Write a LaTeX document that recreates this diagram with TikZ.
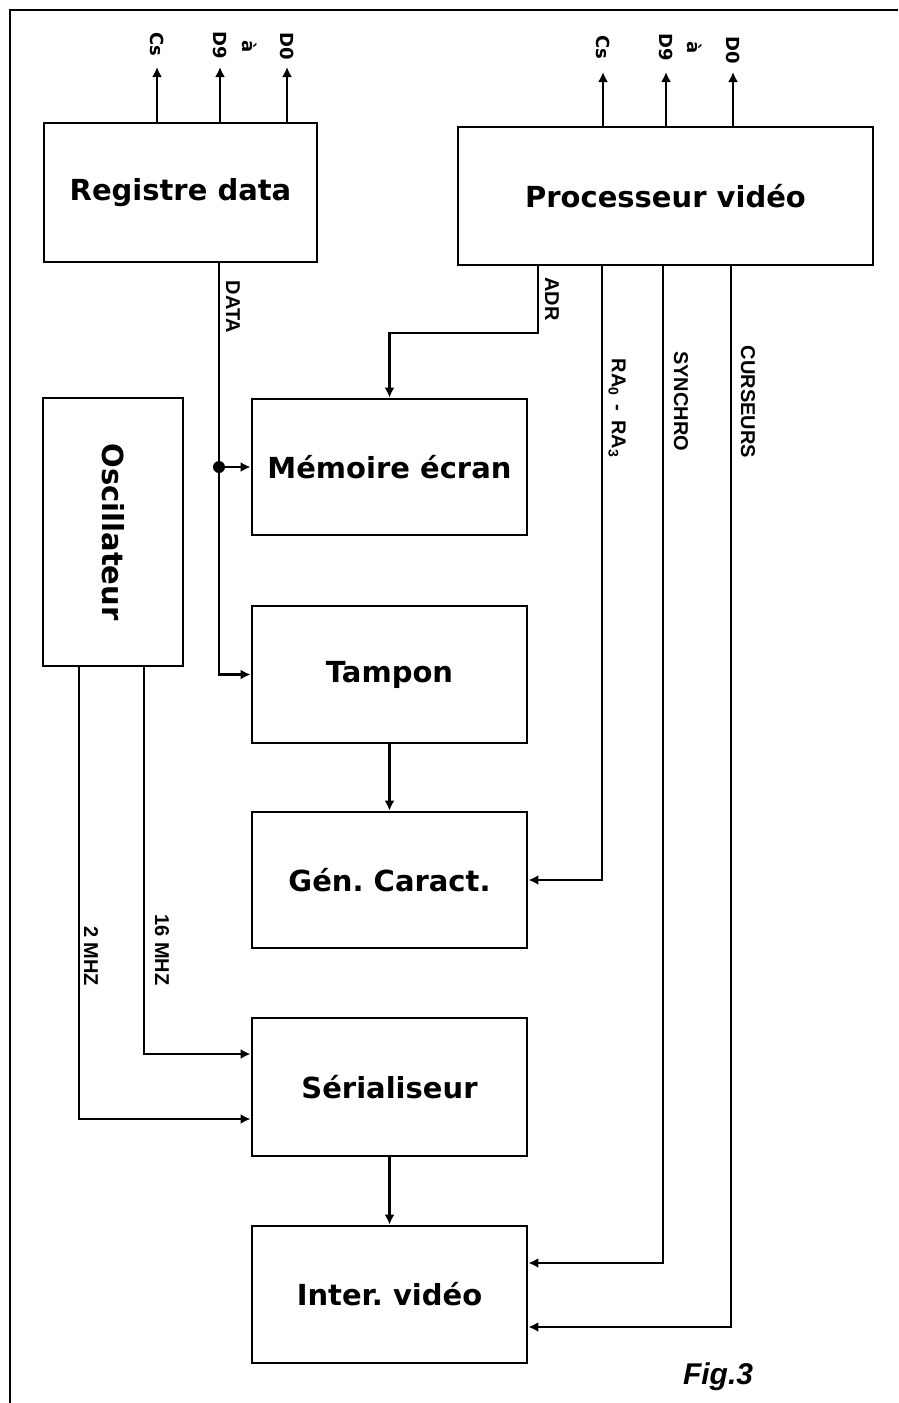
\documentclass[tikz,border=0pt]{standalone}
\usepackage{fontspec}
\setmainfont{DejaVu Sans}
\newfontfamily\lblfont{Liberation Sans}
\usetikzlibrary{arrows.meta}
\frenchspacing
\begin{document}
\begin{tikzpicture}[x=1pt,y=-1pt,
  box/.style={draw,line width=2.9pt,minimum width=275pt,minimum height=137pt,inner sep=0pt,
    font=\fontsize{29}{32}\selectfont\bfseries},
  wire/.style={line width=2.9pt},
  arr/.style={wire,-{Latex[length=10pt,width=10pt]}},
  sig/.style={inner sep=0pt,font=\fontsize{20}{22}\selectfont\lblfont\bfseries},
  pin/.style={inner sep=0pt,font=\fontsize{18}{20}\selectfont\bfseries}]
\useasboundingbox (0,0) rectangle (898,1403);
\fill[white] (0,0) rectangle (898,1403);
% frame
\draw[wire] (10,1403) -- (10,10) -- (898,10);

% boxes
\node[box,minimum width=273pt,minimum height=139pt] (reg) at (180.5,192.5) {Registre data};
\node[box,minimum width=415pt,minimum height=138pt] (proc) at (665.5,196) {Processeur vidéo};
\node[box,minimum width=140pt,minimum height=268pt] (osc) at (113,532) {\rotatebox{-90}{Oscillateur}};
\node[box,minimum height=136pt] (mem) at (389.5,467) {Mémoire écran};
\node[box] (tam) at (389.5,674.5) {Tampon};
\node[box,minimum height=136pt] (gen) at (389.5,880) {Gén. Caract.};
\node[box,minimum height=138pt] (ser) at (389.5,1087) {Sérialiseur};
\node[box] (inter) at (389.5,1294.5) {Inter. vidéo};

% pins of Registre data
\node[pin] (rcs) at (157,44) {\rotatebox{-90}{Cs}};
\node[pin] (rd9) at (220,45) {\rotatebox{-90}{D9}};
\node[pin] (ra1) at (250,47) {\rotatebox{-90}{à}};
\node[pin] (rd0) at (287,46) {\rotatebox{-90}{D0}};
\coordinate (rt1) at (157,67);
\coordinate (rt2) at (220,67);
\coordinate (rt3) at (287,67);
\draw[arr] (reg.north -| rt1) -- (rt1);
\draw[arr] (reg.north -| rt2) -- (rt2);
\draw[arr] (reg.north -| rt3) -- (rt3);

% pins of Processeur video
\node[pin] (pcs) at (603,47) {\rotatebox{-90}{Cs}};
\node[pin] (pd9) at (666,47) {\rotatebox{-90}{D9}};
\node[pin] (pa1) at (695,48) {\rotatebox{-90}{à}};
\node[pin] (pd0) at (733,50) {\rotatebox{-90}{D0}};
\coordinate (pt1) at (603,72);
\coordinate (pt2) at (666,72);
\coordinate (pt3) at (733,72);
\draw[arr] (proc.north -| pt1) -- (pt1);
\draw[arr] (proc.north -| pt2) -- (pt2);
\draw[arr] (proc.north -| pt3) -- (pt3);

% DATA bus
\coordinate (dj) at (219,467);
\draw[wire] (reg.south -| dj) -- (dj);
\draw[arr] (dj) -- (mem.west);
\draw[arr] (dj) |- (tam.west);
\fill (dj) circle (6pt);
\node[sig] (ldata) at (233,307) {\rotatebox{-90}{DATA}};

% ADR
\coordinate (adr) at (538,333);
\draw[arr] (proc.south -| adr) -- (adr) -| (mem.north);
\node[sig] (ladr) at (552,299) {\rotatebox{-90}{ADR}};

% RA0 - RA3
\coordinate (ra) at (602,300);
\draw[arr] (proc.south -| ra) |- (gen.east);
\node[sig] (lra) at (617,408) {\rotatebox{-90}{RA\textsubscript{0} \,-\, RA\textsubscript{3}}};

% SYNCHRO
\coordinate (sy) at (663,300);
\draw[arr] (proc.south -| sy) |- ([yshift=31.5pt]inter.east);
\node[sig] (lsy) at (681,401) {\rotatebox{-90}{SYNCHRO}};

% CURSEURS
\coordinate (cu) at (731,300);
\draw[arr] (proc.south -| cu) |- ([yshift=-32.5pt]inter.east);
\node[sig] (lcu) at (748,402) {\rotatebox{-90}{CURSEURS}};

% chain
\draw[arr] (tam.south) -- (gen.north);
\draw[arr] (ser.south) -- (inter.north);

% clocks
\coordinate (c16) at (144,700);
\coordinate (c2) at (79,700);
\draw[arr] (osc.south -| c16) |- ([yshift=33pt]ser.west);
\draw[arr] (osc.south -| c2) |- ([yshift=-32pt]ser.west);
\node[sig] (l16) at (162,950) {\rotatebox{-90}{16 MHZ}};
\node[sig] (l2) at (91,956) {\rotatebox{-90}{2 MHZ}};

% caption
\node[inner sep=0pt,font=\fontsize{30}{32}\selectfont\lblfont\bfseries\itshape] (fig) at (718,1377) {Fig.3};
\end{tikzpicture}
\end{document}
